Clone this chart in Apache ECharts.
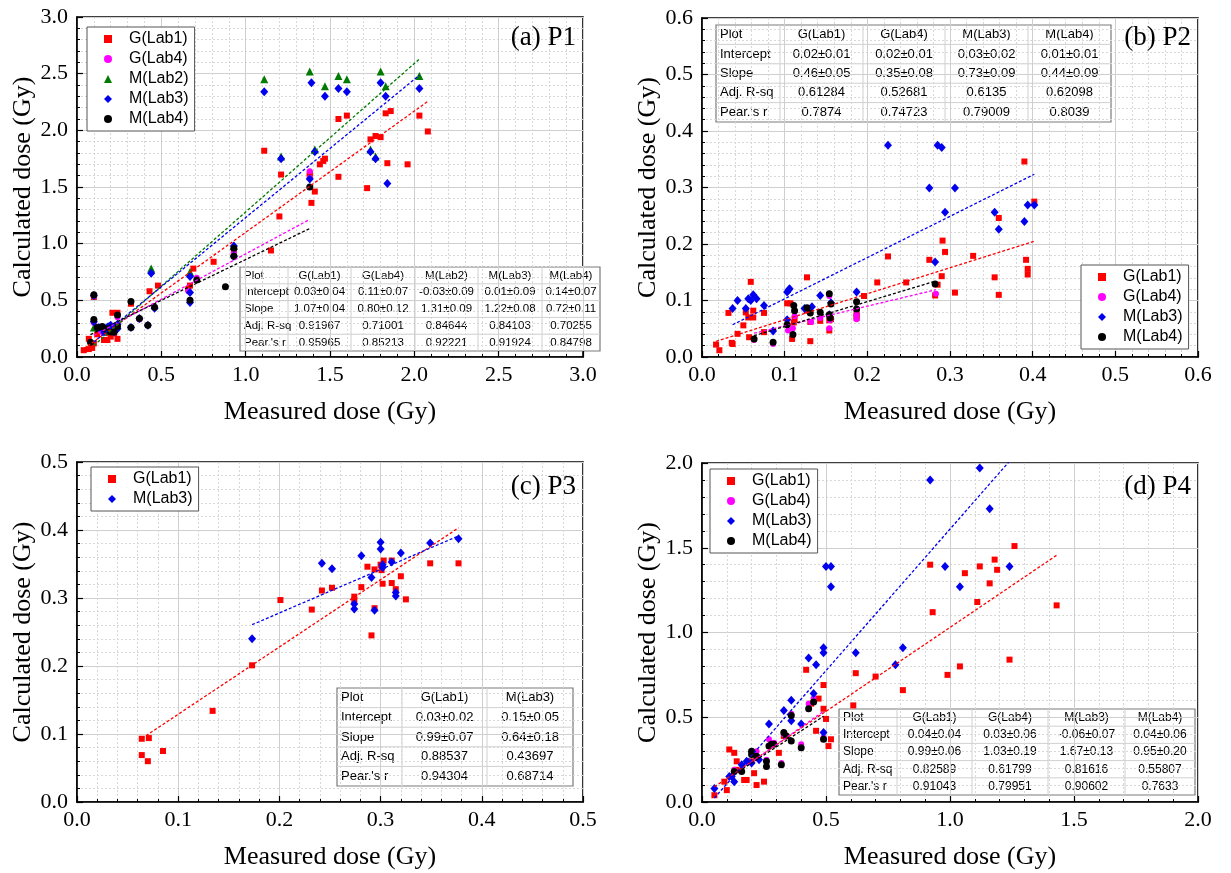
<!DOCTYPE html>
<html>
<head>
<meta charset="utf-8">
<title>Calculated vs measured dose</title>
<script src="https://cdn.jsdelivr.net/npm/echarts@6/dist/echarts.min.js"></script>
<style>
  html, body { margin: 0; padding: 0; background: #fff; }
  #chart { width: 1231px; height: 873px; }
</style>
</head>
<body>
<div id="chart"></div>
<script>
// ---- data: [measured, calculated] in Gy ----
var seriesNames = ["G(Lab1)", "G(Lab4)", "M(Lab2)", "M(Lab3)", "M(Lab4)"];

// (a) P1
var p1_G1 = [[0.04,0.06],[0.07,0.07],[0.09,0.08],[0.07,0.16],[0.10,0.12],[0.12,0.20],[0.16,0.15],[0.18,0.15],[0.19,0.21],[0.21,0.24],[0.21,0.39],[0.24,0.39],[0.24,0.16],[0.20,0.18],[0.22,0.21],[0.10,0.53],[0.32,0.47],[0.43,0.58],[0.48,0.63],[0.66,0.60],[0.67,0.63],[0.69,0.78],[0.81,0.84],[0.93,0.93],[1.15,0.94],[1.20,1.24],[1.21,1.61],[1.11,1.82],[1.38,1.60],[1.38,1.62],[1.39,1.36],[1.41,1.46],[1.44,1.70],[1.46,1.73],[1.47,1.75],[1.55,2.10],[1.60,2.13],[1.55,1.59],[1.72,1.49],[1.74,1.92],[1.77,1.95],[1.80,1.94],[1.83,2.15],[1.86,2.17],[1.84,1.71],[1.96,1.70],[2.03,2.13],[2.08,1.99]];
var p1_G4 = [[0.10,0.30],[0.13,0.25],[0.15,0.22],[0.17,0.24],[0.19,0.26],[0.22,0.25],[0.24,0.27],[0.24,0.35],[0.32,0.26],[0.37,0.33],[0.42,0.28],[0.46,0.44],[0.66,0.58],[0.67,0.50],[0.67,0.72],[0.71,0.70],[0.93,0.92],[0.93,0.95],[1.38,1.64],[1.38,1.58]];
var p1_M2 = [[0.10,0.26],[0.18,0.27],[0.44,0.78],[0.67,0.75],[0.93,0.98],[1.11,2.45],[1.21,1.77],[1.38,2.52],[1.41,1.83],[1.47,2.39],[1.55,2.48],[1.60,2.45],[1.74,1.83],[1.77,1.77],[1.80,2.52],[1.83,2.39],[2.03,2.48]];
var p1_M3 = [[0.10,0.54],[0.10,0.31],[0.13,0.26],[0.15,0.24],[0.16,0.22],[0.17,0.25],[0.18,0.26],[0.19,0.27],[0.20,0.28],[0.21,0.24],[0.22,0.22],[0.24,0.25],[0.24,0.29],[0.32,0.26],[0.37,0.34],[0.42,0.28],[0.46,0.43],[0.44,0.74],[0.67,0.71],[0.67,0.57],[0.67,0.48],[0.93,0.98],[0.93,0.89],[1.11,2.34],[1.21,1.75],[1.38,1.57],[1.39,2.42],[1.41,1.81],[1.47,2.30],[1.55,2.37],[1.60,2.34],[1.74,1.81],[1.77,1.75],[1.80,2.42],[1.83,2.30],[1.84,1.53],[2.03,2.37]];
var p1_M4 = [[0.08,0.13],[0.10,0.55],[0.10,0.33],[0.12,0.26],[0.15,0.27],[0.17,0.25],[0.18,0.23],[0.20,0.22],[0.22,0.22],[0.24,0.27],[0.24,0.37],[0.32,0.49],[0.32,0.26],[0.37,0.34],[0.42,0.28],[0.46,0.44],[0.67,0.50],[0.71,0.68],[0.88,0.62],[0.93,0.96],[0.93,0.89],[1.38,1.50]];

// (b) P2
var p2_G1 = [[0.017,0.022],[0.021,0.012],[0.032,0.078],[0.036,0.025],[0.037,0.023],[0.043,0.041],[0.050,0.056],[0.053,0.079],[0.056,0.070],[0.057,0.035],[0.059,0.133],[0.062,0.082],[0.062,0.070],[0.075,0.044],[0.075,0.078],[0.103,0.095],[0.107,0.095],[0.109,0.032],[0.111,0.061],[0.112,0.067],[0.127,0.141],[0.127,0.082],[0.131,0.028],[0.131,0.062],[0.143,0.064],[0.154,0.047],[0.154,0.065],[0.156,0.067],[0.187,0.078],[0.187,0.073],[0.187,0.069],[0.196,0.108],[0.212,0.132],[0.225,0.178],[0.247,0.132],[0.275,0.172],[0.282,0.109],[0.285,0.128],[0.290,0.143],[0.291,0.206],[0.294,0.186],[0.306,0.114],[0.328,0.179],[0.354,0.141],[0.359,0.246],[0.359,0.110],[0.390,0.346],[0.392,0.172],[0.394,0.146],[0.394,0.156],[0.402,0.275]];
var p2_G4 = [[0.063,0.030],[0.086,0.023],[0.104,0.047],[0.110,0.051],[0.112,0.072],[0.132,0.062],[0.143,0.069],[0.154,0.051],[0.154,0.108],[0.155,0.065],[0.187,0.067],[0.187,0.075],[0.283,0.112]];
var p2_M3 = [[0.037,0.086],[0.043,0.100],[0.053,0.086],[0.056,0.103],[0.059,0.100],[0.062,0.110],[0.066,0.103],[0.075,0.091],[0.086,0.046],[0.103,0.066],[0.103,0.115],[0.105,0.119],[0.106,0.121],[0.124,0.086],[0.133,0.089],[0.143,0.109],[0.154,0.075],[0.156,0.096],[0.187,0.115],[0.225,0.375],[0.275,0.299],[0.282,0.168],[0.285,0.375],[0.290,0.371],[0.294,0.256],[0.306,0.299],[0.354,0.256],[0.359,0.226],[0.390,0.240],[0.394,0.269],[0.402,0.269]];
var p2_M4 = [[0.063,0.032],[0.086,0.026],[0.103,0.057],[0.110,0.040],[0.111,0.091],[0.112,0.082],[0.127,0.087],[0.131,0.078],[0.143,0.079],[0.154,0.075],[0.154,0.112],[0.155,0.069],[0.156,0.094],[0.187,0.098],[0.187,0.085],[0.282,0.129]];

// (c) P3
var p3_G1 = [[0.064,0.093],[0.064,0.069],[0.070,0.060],[0.071,0.094],[0.085,0.075],[0.134,0.134],[0.173,0.201],[0.201,0.297],[0.232,0.283],[0.242,0.311],[0.252,0.315],[0.274,0.302],[0.274,0.297],[0.281,0.316],[0.287,0.346],[0.291,0.245],[0.294,0.342],[0.294,0.285],[0.300,0.349],[0.301,0.341],[0.302,0.321],[0.303,0.355],[0.311,0.355],[0.311,0.322],[0.315,0.313],[0.320,0.332],[0.325,0.298],[0.349,0.351],[0.377,0.351]];
var p3_M3 = [[0.173,0.240],[0.242,0.351],[0.252,0.343],[0.274,0.291],[0.274,0.284],[0.281,0.362],[0.291,0.330],[0.294,0.282],[0.300,0.382],[0.300,0.372],[0.302,0.349],[0.302,0.345],[0.311,0.353],[0.315,0.308],[0.315,0.303],[0.320,0.366],[0.349,0.381],[0.377,0.387]];

// (d) P4
var p4_G1 = [[0.05,0.04],[0.09,0.12],[0.10,0.07],[0.11,0.31],[0.13,0.29],[0.14,0.24],[0.14,0.19],[0.17,0.13],[0.18,0.13],[0.20,0.24],[0.21,0.17],[0.22,0.10],[0.25,0.12],[0.31,0.29],[0.33,0.39],[0.42,0.78],[0.44,0.58],[0.46,0.42],[0.47,0.61],[0.49,0.69],[0.49,0.55],[0.50,0.49],[0.52,0.37],[0.51,0.33],[0.61,0.57],[0.62,0.76],[0.70,0.74],[0.81,0.66],[0.92,1.40],[0.93,1.12],[0.99,0.75],[1.04,0.80],[1.06,1.35],[1.11,1.18],[1.12,1.39],[1.16,1.29],[1.18,1.43],[1.19,1.37],[1.24,0.84],[1.26,1.51],[1.43,1.16]];
var p4_G4 = [[0.13,0.19],[0.20,0.30],[0.22,0.30],[0.26,0.25],[0.27,0.37],[0.29,0.35],[0.32,0.23],[0.33,0.40],[0.36,0.52],[0.40,0.34],[0.43,0.58],[0.45,0.61],[0.49,0.38]];
var p4_M3 = [[0.05,0.08],[0.11,0.15],[0.12,0.15],[0.13,0.12],[0.16,0.22],[0.18,0.24],[0.20,0.23],[0.23,0.25],[0.27,0.46],[0.33,0.54],[0.36,0.60],[0.36,0.48],[0.40,0.46],[0.43,0.85],[0.45,0.64],[0.46,0.81],[0.49,0.91],[0.49,0.88],[0.49,0.41],[0.50,1.39],[0.52,1.39],[0.52,1.27],[0.62,0.88],[0.78,0.81],[0.81,0.91],[0.92,1.90],[0.98,1.39],[1.04,1.27],[1.12,1.97],[1.16,1.73],[1.24,1.39]];
var p4_M4 = [[0.13,0.18],[0.16,0.18],[0.20,0.30],[0.20,0.28],[0.22,0.27],[0.26,0.21],[0.26,0.24],[0.27,0.33],[0.28,0.34],[0.29,0.34],[0.32,0.22],[0.33,0.41],[0.34,0.39],[0.36,0.36],[0.36,0.51],[0.40,0.32],[0.43,0.55],[0.45,0.59],[0.49,0.37]];

// fit tables (text as printed)
var rowLabels = ["Plot", "Intercept", "Slope", "Adj. R-sq", "Pear.'s r"];
var p1_cols = ["G(Lab1)", "G(Lab4)", "M(Lab2)", "M(Lab3)", "M(Lab4)"];
var p1_intercept = ["0.03±0.04", "0.11±0.07", "-0.03±0.09", "0.01±0.09", "0.14±0.07"];
var p1_slope = ["1.07±0.04", "0.80±0.12", "1.31±0.09", "1.22±0.08", "0.72±0.11"];
var p1_r2 = ["0.91967", "0.71001", "0.84644", "0.84103", "0.70255"];
var p1_r = ["0.95965", "0.85213", "0.92221", "0.91924", "0.84798"];

var p2_cols = ["G(Lab1)", "G(Lab4)", "M(Lab3)", "M(Lab4)"];
var p2_intercept = ["0.02±0.01", "0.02±0.01", "0.03±0.02", "0.01±0.01"];
var p2_slope = ["0.46±0.05", "0.35±0.08", "0.73±0.09", "0.44±0.09"];
var p2_r2 = ["0.61284", "0.52681", "0.6135", "0.62098"];
var p2_r = ["0.7874", "0.74723", "0.79009", "0.8039"];

var p3_cols = ["G(Lab1)", "M(Lab3)"];
var p3_intercept = ["0.03±0.02", "0.15±0.05"];
var p3_slope = ["0.99±0.07", "0.64±0.18"];
var p3_r2 = ["0.88537", "0.43697"];
var p3_r = ["0.94304", "0.68714"];

var p4_cols = ["G(Lab1)", "G(Lab4)", "M(Lab3)", "M(Lab4)"];
var p4_intercept = ["0.04±0.04", "0.03±0.06", "-0.06±0.07", "0.04±0.06"];
var p4_slope = ["0.99±0.06", "1.03±0.19", "1.67±0.13", "0.95±0.20"];
var p4_r2 = ["0.82589", "0.61799", "0.81616", "0.55807"];
var p4_r = ["0.91043", "0.79951", "0.90602", "0.7633"];

var panelLabels = ["(a) P1", "(b) P2", "(c) P3", "(d) P4"];
var axisMax = [3, 0.6, 0.5, 2];
var axisStep = [0.5, 0.1, 0.1, 0.5];

// ---- styles ----
var look = {
  "G(Lab1)": { symbol: "rect", size: 6, color: "#ff0000" },
  "G(Lab4)": { symbol: "circle", size: 6, color: "#ff00ff" },
  "M(Lab2)": { symbol: "triangle", size: 8, color: "#007a00" },
  "M(Lab3)": { symbol: "diamond", size: [8, 9], color: "#0000ee" },
  "M(Lab4)": { symbol: "circle", size: 7, color: "#000000" }
};
var serif = "Liberation Serif";
var sans = "Liberation Sans";

var grids = [
  { left: 77, top: 17, width: 506, height: 340 },
  { left: 702, top: 18, width: 496, height: 339 },
  { left: 77, top: 462, width: 506, height: 340 },
  { left: 702, top: 463, width: 496, height: 339 }
];

function makeAxis(i, isX) {
  return {
    type: "value",
    gridIndex: i,
    min: 0,
    max: axisMax[i],
    interval: axisStep[i],
    name: isX ? "Measured dose (Gy)" : "Calculated dose (Gy)",
    nameLocation: "middle",
    nameGap: isX ? 42 : 39,
    nameTextStyle: { fontFamily: serif, fontSize: 26, color: "#000" },
    axisLine: { show: true, onZero: false, lineStyle: { color: "#000", width: 1.6 } },
    axisTick: { show: true, inside: true, length: 6, lineStyle: { color: "#000", width: 1.2 } },
    minorTick: { show: true, splitNumber: 5, length: 3, lineStyle: { color: "#000", width: 1 } },
    axisLabel: {
      fontFamily: serif, fontSize: 22, color: "#000", margin: isX ? 7 : 9,
      formatter: function (v) { return v.toFixed(1); }
    },
    splitLine: { show: true, lineStyle: { color: "#cfcfcf", width: 1 } },
    minorSplitLine: { show: true, lineStyle: { color: "#d8d8d8", width: 1, type: [2, 2] } }
  };
}

function scatter(name, data, i) {
  var s = look[name];
  return {
    type: "scatter", name: name, xAxisIndex: i, yAxisIndex: i,
    data: data, symbol: s.symbol, symbolSize: s.size,
    itemStyle: { color: s.color, opacity: 1 }, z: 3
  };
}

function fitLine(name, data, i, interceptText, slopeText) {
  var b = parseFloat(interceptText), m = parseFloat(slopeText);
  var xs = data.map(function (d) { return d[0]; });
  var x0 = Math.min.apply(null, xs), x1 = Math.max.apply(null, xs);
  return {
    type: "line", name: name + " fit", xAxisIndex: i, yAxisIndex: i,
    data: [[x0, b + m * x0], [x1, b + m * x1]],
    symbol: "none", silent: true, clip: true, z: 4,
    lineStyle: { color: look[name].color, width: 1.3, type: [3, 2] }
  };
}

function legendBox(names, left, top) {
  return {
    data: names, orient: "vertical", left: left, top: top,
    itemWidth: 8, itemHeight: 8, itemGap: 2,
    padding: [3, 6, 3, 17],
    backgroundColor: "#fff", borderColor: "#555", borderWidth: 1,
    textStyle: { fontFamily: sans, fontSize: 16, color: "#000", lineHeight: 18, padding: [0, 0, 0, 12] }
  };
}

// table drawn as a graphic group
function table(x, y, colW, rowH, cols, inter, slope, r2, r, fontSize) {
  var rows = [[rowLabels[0]].concat(cols), [rowLabels[1]].concat(inter), [rowLabels[2]].concat(slope),
    [rowLabels[3]].concat(r2), [rowLabels[4]].concat(r)];
  var total = colW.reduce(function (a, b) { return a + b; }, 0);
  var h = rowH * rows.length;
  var kids = [{ type: "rect", shape: { x: 0, y: 0, width: total, height: h },
    style: { fill: "#fff", stroke: "#7a7a7a", lineWidth: 1.2 } }];
  for (var k = 1; k < rows.length; k++) {
    kids.push({ type: "line", shape: { x1: 0, y1: k * rowH, x2: total, y2: k * rowH },
      style: { stroke: "#d0d0d0", lineWidth: 1 } });
  }
  var cx = 0;
  var starts = [];
  for (var c = 0; c < colW.length; c++) {
    starts.push(cx);
    if (c > 0) {
      kids.push({ type: "line", shape: { x1: cx, y1: 0, x2: cx, y2: h },
        style: { stroke: "#d0d0d0", lineWidth: 1 } });
    }
    cx += colW[c];
  }
  rows.forEach(function (row, ri) {
    row.forEach(function (txt, ci) {
      kids.push({ type: "text", x: ci === 0 ? starts[0] + 4 : starts[ci] + colW[ci] / 2, y: ri * rowH + rowH / 2,
        style: { text: txt, fill: "#000", font: fontSize + "px '" + sans + "'",
          align: ci === 0 ? "left" : "center", verticalAlign: "middle" } });
    });
  });
  return { type: "group", x: x, y: y, z: 100, children: kids };
}

function panelTag(i, x, y) {
  return { type: "text", x: x, y: y, z: 100,
    style: { text: panelLabels[i], fill: "#000", font: "27px '" + serif + "'", align: "right", verticalAlign: "middle" } };
}

var chart = echarts.init(document.getElementById("chart"));

var series = [
  scatter("G(Lab1)", p1_G1, 0), scatter("G(Lab4)", p1_G4, 0), scatter("M(Lab2)", p1_M2, 0),
  scatter("M(Lab3)", p1_M3, 0), scatter("M(Lab4)", p1_M4, 0),
  fitLine("G(Lab1)", p1_G1, 0, p1_intercept[0], p1_slope[0]),
  fitLine("G(Lab4)", p1_G4, 0, p1_intercept[1], p1_slope[1]),
  fitLine("M(Lab2)", p1_M2, 0, p1_intercept[2], p1_slope[2]),
  fitLine("M(Lab3)", p1_M3, 0, p1_intercept[3], p1_slope[3]),
  fitLine("M(Lab4)", p1_M4, 0, p1_intercept[4], p1_slope[4]),

  scatter("G(Lab1)", p2_G1, 1), scatter("G(Lab4)", p2_G4, 1),
  scatter("M(Lab3)", p2_M3, 1), scatter("M(Lab4)", p2_M4, 1),
  fitLine("G(Lab1)", p2_G1, 1, p2_intercept[0], p2_slope[0]),
  fitLine("G(Lab4)", p2_G4, 1, p2_intercept[1], p2_slope[1]),
  fitLine("M(Lab3)", p2_M3, 1, p2_intercept[2], p2_slope[2]),
  fitLine("M(Lab4)", p2_M4, 1, p2_intercept[3], p2_slope[3]),

  scatter("G(Lab1)", p3_G1, 2), scatter("M(Lab3)", p3_M3, 2),
  fitLine("G(Lab1)", p3_G1, 2, p3_intercept[0], p3_slope[0]),
  fitLine("M(Lab3)", p3_M3, 2, p3_intercept[1], p3_slope[1]),

  scatter("G(Lab1)", p4_G1, 3), scatter("G(Lab4)", p4_G4, 3),
  scatter("M(Lab3)", p4_M3, 3), scatter("M(Lab4)", p4_M4, 3),
  fitLine("G(Lab1)", p4_G1, 3, p4_intercept[0], p4_slope[0]),
  fitLine("G(Lab4)", p4_G4, 3, p4_intercept[1], p4_slope[1]),
  fitLine("M(Lab3)", p4_M3, 3, p4_intercept[2], p4_slope[2]),
  fitLine("M(Lab4)", p4_M4, 3, p4_intercept[3], p4_slope[3])
];

var option = {
  animation: false,
  backgroundColor: "#fff",
  grid: grids.map(function (g) {
    return { left: g.left, top: g.top, width: g.width, height: g.height,
      show: true, borderColor: "#000", borderWidth: 1.6, backgroundColor: "transparent" };
  }),
  xAxis: [0, 1, 2, 3].map(function (i) { return makeAxis(i, true); }),
  yAxis: [0, 1, 2, 3].map(function (i) { return makeAxis(i, false); }),
  legend: [
    legendBox(seriesNames, 87, 27),
    legendBox(["G(Lab1)", "G(Lab4)", "M(Lab3)", "M(Lab4)"], 1081, 265),
    legendBox(["G(Lab1)", "M(Lab3)"], 91, 467),
    legendBox(["G(Lab1)", "G(Lab4)", "M(Lab3)", "M(Lab4)"], 710, 469)
  ],
  graphic: [
    panelTag(0, 576, 38), panelTag(1, 1191, 38), panelTag(2, 576, 487), panelTag(3, 1191, 487),
    table(240, 267, [48, 63, 64, 63, 64, 58], 16.8, p1_cols, p1_intercept, p1_slope, p1_r2, p1_r, 11.5),
    table(716, 25, [64, 83, 82, 83, 83], 19.4, p2_cols, p2_intercept, p2_slope, p2_r2, p2_r, 13),
    table(337, 688, [65, 85, 86], 19.6, p3_cols, p3_intercept, p3_slope, p3_r2, p3_r, 13),
    table(839, 709, [58, 75, 76, 77, 70], 17.2, p4_cols, p4_intercept, p4_slope, p4_r2, p4_r, 12)
  ],
  series: series
};

option && chart.setOption(option);
</script>
</body>
</html>
